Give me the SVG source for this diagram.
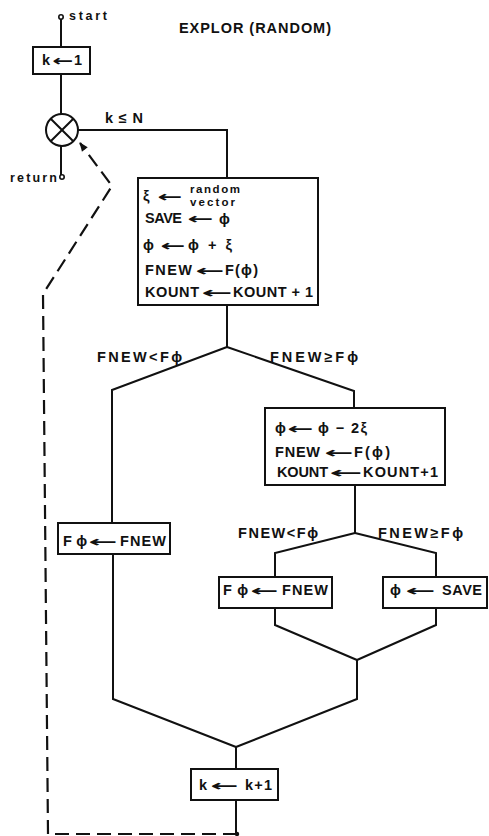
<svg xmlns="http://www.w3.org/2000/svg" width="489" height="836" viewBox="0 0 489 836">
  <style>
    .ln { fill: none; stroke: #111; stroke-width: 2; stroke-linejoin: miter; }
    .dash { fill: none; stroke: #111; stroke-width: 2.2; stroke-dasharray: 14 7; }
    .box { fill: #fff; stroke: #111; stroke-width: 2; }
    .t { font-family: "Liberation Sans", "DejaVu Sans", sans-serif; font-weight: bold; font-size: 14.5px; fill: #111; }
    .s { font-family: "Liberation Sans", "DejaVu Sans", sans-serif; font-weight: bold; font-size: 12.5px; fill: #111; }
    .ss { font-family: "Liberation Sans", "DejaVu Sans", sans-serif; font-weight: bold; font-size: 11.5px; fill: #111; }
    .ar { font-family: "DejaVu Sans", sans-serif; font-weight: bold; font-size: 15px; fill: #111; }
    .term { fill: #fff; stroke: #111; stroke-width: 1.6; }
  </style>
  <defs>
    <marker id="head" viewBox="0 0 10 10" refX="9" refY="5" markerWidth="10" markerHeight="9" orient="auto" markerUnits="userSpaceOnUse">
      <path d="M0,1 L10,5 L0,9 z" fill="#111"/>
    </marker>
  </defs>
  <rect width="489" height="836" fill="#fff"/>

  <text class="t" x="179" y="33" font-size="15" textLength="152">EXPLOR (RANDOM)</text>

  <g id="connectors">
    <!-- start to k<-1 -->
    <line class="ln" x1="61" y1="19" x2="61" y2="47"/>
    <!-- k<-1 to junction -->
    <line class="ln" x1="61" y1="74" x2="61" y2="114"/>
    <!-- junction to return -->
    <line class="ln" x1="61" y1="146" x2="61" y2="175"/>
    <!-- junction, k<=N, to main block -->
    <polyline class="ln" points="78,130 227,130 227,178"/>
    <!-- main block to first branch -->
    <polyline class="ln" points="227,305 227,347"/>
    <polyline class="ln" points="227,347 112,390 112,523"/>
    <polyline class="ln" points="227,347 354,391 354,408"/>
    <!-- left path down -->
    <polyline class="ln" points="113,554 113,699 236,747"/>
    <!-- right block to inner branch -->
    <polyline class="ln" points="355,485 355,533"/>
    <polyline class="ln" points="355,533 275,553 275,577"/>
    <polyline class="ln" points="355,533 436,553 436,577"/>
    <!-- inner merge -->
    <polyline class="ln" points="275,608 275,625 357,660"/>
    <polyline class="ln" points="436,608 436,625 357,660"/>
    <polyline class="ln" points="357,660 357,699 236,747"/>
    <!-- merge to k<-k+1 -->
    <line class="ln" x1="236" y1="746" x2="236" y2="769"/>
    <line class="ln" x1="236" y1="800" x2="236" y2="834"/>
    <circle cx="237" cy="834" r="2.2" fill="#111"/>
    <!-- dashed loop back to junction -->
    <polyline class="dash" points="237,834 48,834 43,294 112,186 80,143" marker-end="url(#head)"/>
  </g>

  <g id="start">
    <circle class="term" cx="61" cy="17" r="2.2"/>
    <text class="s" x="69" y="20" textLength="38">start</text>
  </g>

  <g id="init">
    <rect class="box" x="33" y="47" width="57" height="27"/>
    <text class="t" x="42" y="65">k</text>
    <text class="ar" x="52" y="66" textLength="21" lengthAdjust="spacingAndGlyphs">←</text>
    <text class="t" x="74" y="65">1</text>
  </g>

  <g id="junction">
    <circle class="box" cx="62" cy="130" r="16"/>
    <path class="ln" d="M50.7,118.7 L73.3,141.3 M73.3,118.7 L50.7,141.3"/>
    <text class="t" x="105" y="123" textLength="38">k≤N</text>
  </g>

  <g id="return">
    <circle class="term" cx="62" cy="177" r="2.2"/>
    <text class="s" x="10" y="182" textLength="47">return</text>
  </g>

  <g id="step">
    <rect class="box" x="138" y="178" width="180" height="127"/>
    <text class="t" x="143" y="201">ξ</text>
    <text class="ar" x="157" y="202" textLength="25" lengthAdjust="spacingAndGlyphs">←</text>
    <text class="ss" x="190" y="193" textLength="50">random</text>
    <text class="ss" x="190" y="206" textLength="45">vector</text>

    <text class="t" x="145" y="223" textLength="37">SAVE</text>
    <text class="ar" x="187" y="224" textLength="26" lengthAdjust="spacingAndGlyphs">←</text>
    <text class="t" x="219" y="224">ϕ</text>

    <text class="t" x="143" y="250">ϕ</text>
    <text class="ar" x="160" y="251" textLength="25" lengthAdjust="spacingAndGlyphs">←</text>
    <text class="t" x="188" y="250" textLength="44">ϕ + ξ</text>

    <text class="t" x="145" y="275" textLength="47">FNEW</text>
    <text class="ar" x="195" y="276" textLength="29" lengthAdjust="spacingAndGlyphs">←</text>
    <text class="t" x="225" y="275" textLength="33">F(ϕ)</text>

    <text class="t" x="145" y="297" textLength="54">KOUNT</text>
    <text class="ar" x="201" y="298" textLength="31" lengthAdjust="spacingAndGlyphs">←</text>
    <text class="t" x="233" y="297" textLength="80">KOUNT + 1</text>
  </g>

  <g id="test1">
    <text class="t" x="97" y="362" textLength="85">FNEW&lt;Fϕ</text>
    <text class="t" x="270" y="362" textLength="88">FNEW≥Fϕ</text>
  </g>

  <g id="accept1">
    <rect class="box" x="58" y="523" width="112" height="31"/>
    <text class="t" x="63" y="546" textLength="24">Fϕ</text>
    <text class="ar" x="88" y="547" textLength="29" lengthAdjust="spacingAndGlyphs">←</text>
    <text class="t" x="120" y="546" textLength="46">FNEW</text>
  </g>

  <g id="reverse">
    <rect class="box" x="265" y="408" width="180" height="77"/>
    <text class="t" x="275" y="433">ϕ</text>
    <text class="ar" x="287" y="434" textLength="26" lengthAdjust="spacingAndGlyphs">←</text>
    <text class="t" x="318" y="433" textLength="49">ϕ − 2ξ</text>

    <text class="t" x="275" y="457" textLength="45">FNEW</text>
    <text class="ar" x="324" y="458" textLength="29" lengthAdjust="spacingAndGlyphs">←</text>
    <text class="t" x="354" y="457" textLength="36">F(ϕ)</text>

    <text class="t" x="277" y="477" textLength="51">KOUNT</text>
    <text class="ar" x="329" y="478" textLength="33" lengthAdjust="spacingAndGlyphs">←</text>
    <text class="t" x="363" y="477" textLength="75">KOUNT+1</text>
  </g>

  <g id="test2">
    <text class="t" x="238" y="538" textLength="80">FNEW&lt;Fϕ</text>
    <text class="t" x="378" y="538" textLength="85">FNEW≥Fϕ</text>
  </g>

  <g id="accept2">
    <rect class="box" x="219" y="577" width="113" height="31"/>
    <text class="t" x="223" y="595" textLength="25">Fϕ</text>
    <text class="ar" x="250" y="596" textLength="28" lengthAdjust="spacingAndGlyphs">←</text>
    <text class="t" x="282" y="595" textLength="46">FNEW</text>
  </g>

  <g id="restore">
    <rect class="box" x="383" y="577" width="104" height="31"/>
    <text class="t" x="390" y="595">ϕ</text>
    <text class="ar" x="405" y="596" textLength="30" lengthAdjust="spacingAndGlyphs">←</text>
    <text class="t" x="442" y="595" textLength="40">SAVE</text>
  </g>

  <g id="increment">
    <rect class="box" x="191" y="769" width="87" height="31"/>
    <text class="t" x="199" y="790">k</text>
    <text class="ar" x="210" y="791" textLength="28" lengthAdjust="spacingAndGlyphs">←</text>
    <text class="t" x="245" y="790" textLength="27">k+1</text>
  </g>
</svg>
